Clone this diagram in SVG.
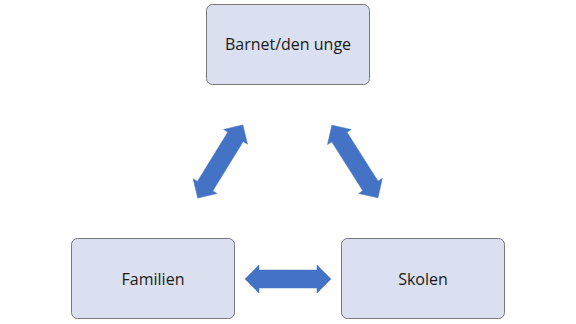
<svg xmlns="http://www.w3.org/2000/svg" width="576" height="324" viewBox="0 0 576 324">
<defs>
<style>
.box{fill:#DAE0EF;stroke:#777777;stroke-width:1}
.lbl{font-family:"Open Sans","Liberation Sans",sans-serif;font-size:16px;fill:#1a1a1a;text-anchor:middle}
.arr{fill:#4472C4;stroke:#4472C4;stroke-width:0.5}
</style>
<path id="dbl" d="M-43,0 L-29,-14 L-29,-9 L29,-9 L29,-14 L43,0 L29,14 L29,9 L-29,9 L-29,14 Z"/>
</defs>
<rect width="576" height="324" fill="#ffffff"/>
<g id="connectors">
<use href="#dbl" class="arr" transform="translate(288,279)"/>
<use href="#dbl" class="arr" transform="translate(220.3,161.5) rotate(-58.3)"/>
<use href="#dbl" class="arr" transform="translate(354.9,161.5) rotate(57.6)"/>
</g>
<g id="barnet">
<rect class="box" x="206.5" y="4.5" width="163" height="80" rx="6"/>
<text class="lbl" x="288" y="50">Barnet/den unge</text>
</g>
<g id="familien">
<rect class="box" x="71.5" y="238.5" width="163" height="80" rx="6"/>
<text class="lbl" x="153" y="284.5">Familien</text>
</g>
<g id="skolen">
<rect class="box" x="341.5" y="238.5" width="163" height="80" rx="6"/>
<text class="lbl" x="423" y="284.5">Skolen</text>
</g>
</svg>
